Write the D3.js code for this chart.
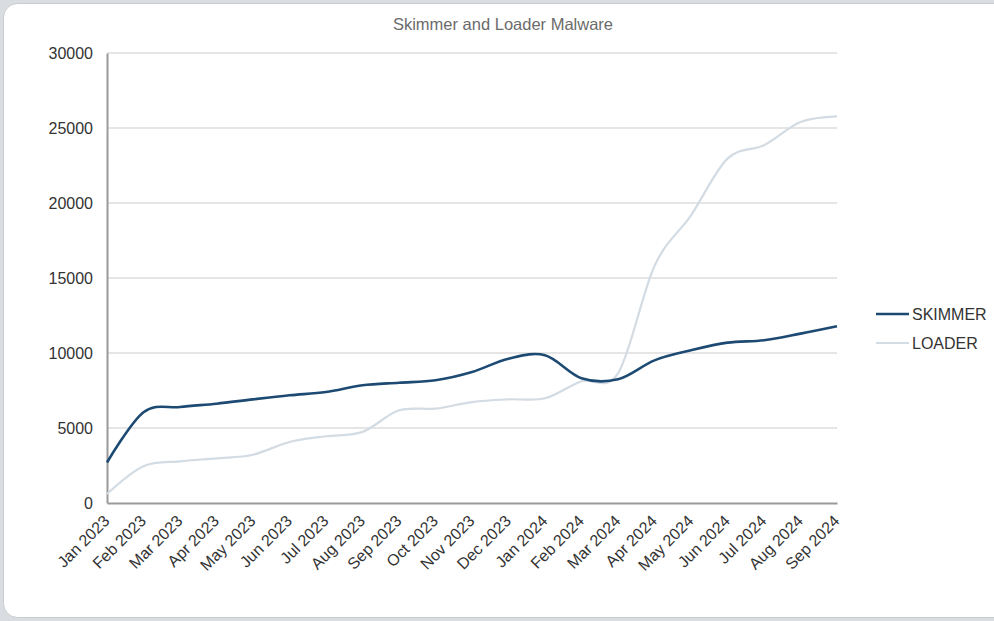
<!DOCTYPE html>
<html><head><meta charset="utf-8">
<script src="https://cdn.jsdelivr.net/npm/d3@7"></script>
<style>
html,body{margin:0;padding:0;background:#d9dde2;overflow:hidden;}
svg{display:block;}
</style></head>
<body>
<svg id="chart" width="994" height="621"></svg>
<script>
const months = ["Jan 2023","Feb 2023","Mar 2023","Apr 2023","May 2023","Jun 2023","Jul 2023","Aug 2023","Sep 2023","Oct 2023","Nov 2023","Dec 2023","Jan 2024","Feb 2024","Mar 2024","Apr 2024","May 2024","Jun 2024","Jul 2024","Aug 2024","Sep 2024"];
const skimmer = [2700,6050,6400,6620,6910,7180,7400,7850,8020,8180,8730,9620,9850,8320,8250,9510,10180,10690,10850,11290,11780];
const loader  = [600,2450,2780,2980,3220,4070,4450,4740,6180,6290,6730,6910,6980,8120,8640,15800,19180,22960,23850,25400,25780];
const yTicks = [0,5000,10000,15000,20000,25000,30000];
const seriesNames = ["SKIMMER","LOADER"];
const seriesColors = ["#1d4a72","#d3dbe3"];

const svg = d3.select("#chart");
// card background
svg.append("rect").attr("x",3.5).attr("y",3.5).attr("width",1010).attr("height",614)
  .attr("rx",14).attr("fill","#ffffff").attr("stroke","#c8ccd1").attr("stroke-width",1);

const pLeft=107, pRight=837, pTop=53, pBottom=503;
const x = d3.scalePoint().domain(months).range([pLeft,pRight]);
const y = d3.scaleLinear().domain([0,30000]).range([pBottom,pTop]);

// gridlines
svg.append("g").selectAll("line").data(yTicks.filter(d=>d>0)).join("line")
  .attr("x1",pLeft).attr("x2",pRight).attr("y1",d=>y(d)).attr("y2",d=>y(d))
  .attr("stroke","#dcdcdc").attr("stroke-width",1.5);

// y axis
const yAxis = svg.append("g").attr("transform",`translate(${pLeft},0)`)
  .call(d3.axisLeft(y).tickValues(yTicks).tickSize(0).tickPadding(14).tickFormat(d3.format("d")));
yAxis.select(".domain").attr("stroke","#9a9a9a").attr("stroke-width",2);
yAxis.selectAll("text").attr("font-family","Liberation Sans, Arial, sans-serif").attr("font-size",16).attr("fill","#333");

// x axis
const xAxis = svg.append("g").attr("transform",`translate(0,${pBottom})`)
  .call(d3.axisBottom(x).tickSize(0).tickPadding(0));
xAxis.select(".domain").attr("stroke","#9a9a9a").attr("stroke-width",2);
xAxis.selectAll("text").attr("font-family","Liberation Sans, Arial, sans-serif").attr("font-size",16).attr("fill","#333")
  .attr("text-anchor","end").attr("dy",null).attr("y",0)
  .attr("transform","translate(3,19) rotate(-45)");

// lines
const curve = d3.curveCatmullRom.alpha(0);
const lineGen = d3.line().x((d,i)=>x(months[i])).y(d=>y(d)).curve(curve);
svg.append("path").datum(loader).attr("d",lineGen).attr("fill","none")
  .attr("stroke",seriesColors[1]).attr("stroke-width",2.2);
svg.append("path").datum(skimmer).attr("d",lineGen).attr("fill","none")
  .attr("stroke",seriesColors[0]).attr("stroke-width",2.6);

// title
svg.append("text").attr("x",503).attr("y",30).attr("text-anchor","middle")
  .attr("font-family","Liberation Sans, Arial, sans-serif").attr("font-size",16.5).attr("fill","#6b6b6b")
  .text("Skimmer and Loader Malware");

// legend
const lg = svg.append("g").selectAll("g").data(seriesNames).join("g")
  .attr("transform",(d,i)=>`translate(876,${314+i*29})`);
lg.append("line").attr("x1",0).attr("x2",33).attr("y1",0).attr("y2",0)
  .attr("stroke",(d,i)=>seriesColors[i]).attr("stroke-width",(d,i)=>i===0?2.6:2.2);
lg.append("text").attr("x",36).attr("y",0).attr("dy","0.35em")
  .attr("font-family","Liberation Sans, Arial, sans-serif").attr("font-size",16).attr("fill","#333")
  .text(d=>d);
</script>
</body></html>
